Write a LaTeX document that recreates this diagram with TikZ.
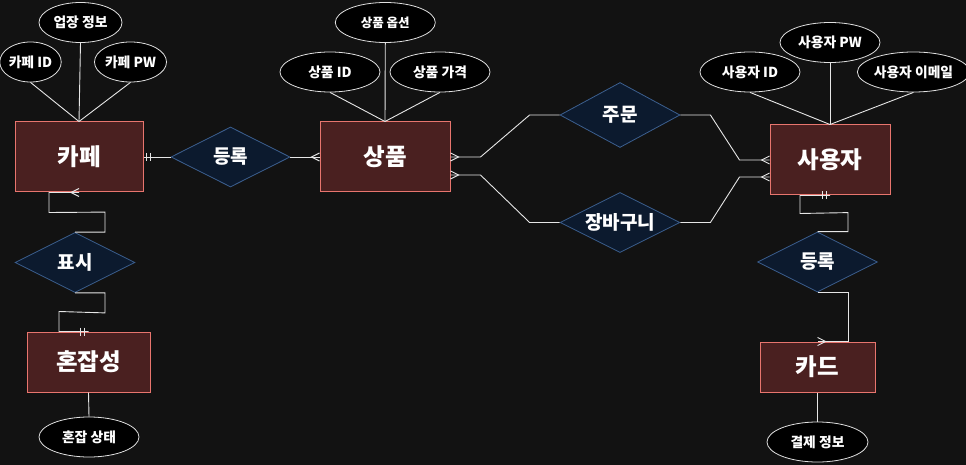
\documentclass[tikz,border=0pt]{standalone}
\usepackage{fontspec}
\setmainfont{Noto Sans CJK KR}
\usetikzlibrary{shapes.geometric,calc}
\definecolor{bg}{HTML}{121212}
\definecolor{entfill}{HTML}{4A2020}
\definecolor{entdraw}{HTML}{E8756E}
\definecolor{relfill}{HTML}{0C1A2E}
\definecolor{reldraw}{HTML}{3C5F8F}
\definecolor{attdraw}{HTML}{E0E0E0}
\definecolor{conncol}{HTML}{E6E6E6}
\tikzset{
 entity/.style={rectangle, draw=entdraw, fill=entfill, line width=1pt, text=white, font=\bfseries\fontsize{23.5}{27}\selectfont, inner sep=0pt},
 rel/.style={diamond, aspect=2, draw=reldraw, fill=relfill, line width=0.8pt, text=white, font=\bfseries\fontsize{19}{22}\selectfont, inner sep=0pt},
 attr/.style={ellipse, draw=attdraw, fill=black, line width=0.8pt, text=white, font=\bfseries\fontsize{13.8}{16}\selectfont, inner sep=0pt, minimum height=40pt},
 link/.style={draw=conncol, line width=0.9pt},
 cfL/.pic={\draw[link] (0,-4) -- (-8,0) -- (0,4);},
 cfR/.pic={\draw[link] (0,-4) -- (8,0) -- (0,4);},
 barsR/.pic={\draw[link] (3,-4) -- (3,4) (7,-4) -- (7,4);},
 barsL/.pic={\draw[link] (-4,-4) -- (-4,4) (-8,-4) -- (-8,4);},
}
\begin{document}
\begin{tikzpicture}[x=1pt,y=-1pt]
\fill[bg] (0,0) rectangle (966,465);
\useasboundingbox (0,0) rectangle (966,465);

% entities
\node[entity, minimum width=128pt, minimum height=70pt] (cafe) at (79,157) {카페};
\node[entity, minimum width=130pt, minimum height=70pt] (prod) at (385,157) {상품};
\node[entity, minimum width=120pt, minimum height=70pt] (user) at (830,160) {사용자};
\node[entity, minimum width=123pt, minimum height=60pt] (crowd) at (88.5,362) {혼잡성};
\node[entity, minimum width=115pt, minimum height=50pt] (card) at (817.5,367) {카드};

% relationships
\node[rel, minimum width=119pt, minimum height=60pt] (reg1) at (230.5,157) {등록};
\node[rel, minimum width=120pt, minimum height=65pt] (order) at (620,115) {주문};
\node[rel, minimum width=120pt, minimum height=60pt] (cart) at (620,222.5) {장바구니};
\node[rel, minimum width=120pt, minimum height=60pt] (show) at (75,262.5) {표시};
\node[rel, minimum width=120pt, minimum height=60pt] (reg2) at (817.5,262) {등록};

% attributes
\node[attr, minimum width=61pt] (a1) at (30.5,62) {카페 ID};
\node[attr, minimum width=83pt] (a2) at (80.5,22.5) {업장 정보};
\node[attr, minimum width=61pt] (a3) at (130.5,62) {카페 PW};
\node[attr, minimum width=100pt] (b1) at (330,72) {상품 ID};
\node[attr, minimum width=100pt, font=\bfseries\fontsize{12.5}{15}\selectfont] (b2) at (385.3,22.5) {상품 옵션};
\node[attr, minimum width=100pt] (b3) at (440,72) {상품 가격};
\node[attr, minimum width=100pt] (c1) at (750,72) {사용자 ID};
\node[attr, minimum width=100pt] (c2) at (830,42.5) {사용자 PW};
\node[attr, minimum width=105pt] (c3) at (913.5,72) {사용자 이메일};
\node[attr, minimum width=100pt] (d1) at (89,437) {혼잡 상태};
\node[attr, minimum width=101pt] (e1) at (817.5,442) {결제 정보};

% attribute links
\draw[link] (a1.south) -- (cafe.north);
\draw[link] (a2.south) -- (cafe.north);
\draw[link] (a3.south) -- (cafe.north);
\draw[link] (b1.south) -- (prod.north);
\draw[link] (b2.south) -- (prod.north);
\draw[link] (b3.south) -- (prod.north);
\draw[link] (c1.south) -- (user.north);
\draw[link] (c2.south) -- (user.north);
\draw[link] (c3.south) -- (user.north);
\draw[link] (crowd.south) -- (d1.north);
\draw[link] (card.south) -- (e1.north);

% relationship links
\draw[link] (cafe.east) -- (reg1.west);
\draw[link] (reg1.east) -- (prod.west);
\draw[link] (prod.east) -- ++(30,0) -- ($(order.west)+(-30,0)$) -- (order.west);
\draw[link] ($(prod.east)+(0,18)$) -- ++(30,0) -- ($(cart.west)+(-30,0)$) -- (cart.west);
\draw[link] (order.east) -- ++(30,0) -- ($(user.west)+(-30,0)$) -- (user.west);
\draw[link] (cart.east) -- ++(30,0) -- ($(user.west)+(-30,17)$) -- ($(user.west)+(0,17)$);
\draw[link] (cafe.south) -- ++(-30,0) -- ++(0,20) -- ($(show.north)+(30,-20)$) -- ($(show.north)+(30,0)$) -- (show.north);
\draw[link] (show.south) -- ++(30,0) -- ++(0,20) -- ($(crowd.north)+(-29.5,-20)$) -- ($(crowd.north)+(-29.5,0)$) -- (crowd.north);
\draw[link] (user.south) -- ++(-30,0) -- ++(0,18) -- ($(reg2.north)+(30.5,-19)$) -- ($(reg2.north)+(30.5,0)$) -- (reg2.north);
\draw[link] (reg2.south) -- ++(30.5,0) -- ($(card.north)+(30.5,0)$) -- (card.north);

% cardinality marks
\pic at (prod.west) {cfL};
\pic at (user.west) {cfL};
\pic at ($(user.west)+(0,17)$) {cfL};
\pic at (cafe.south) {cfL};
\pic at (prod.east) {cfR};
\pic at ($(prod.east)+(0,18)$) {cfR};
\pic at (card.north) {cfR};
\pic at (cafe.east) {barsR};
\pic at (crowd.north) {barsL};
\pic at (user.south) {barsL};
\end{tikzpicture}
\end{document}
